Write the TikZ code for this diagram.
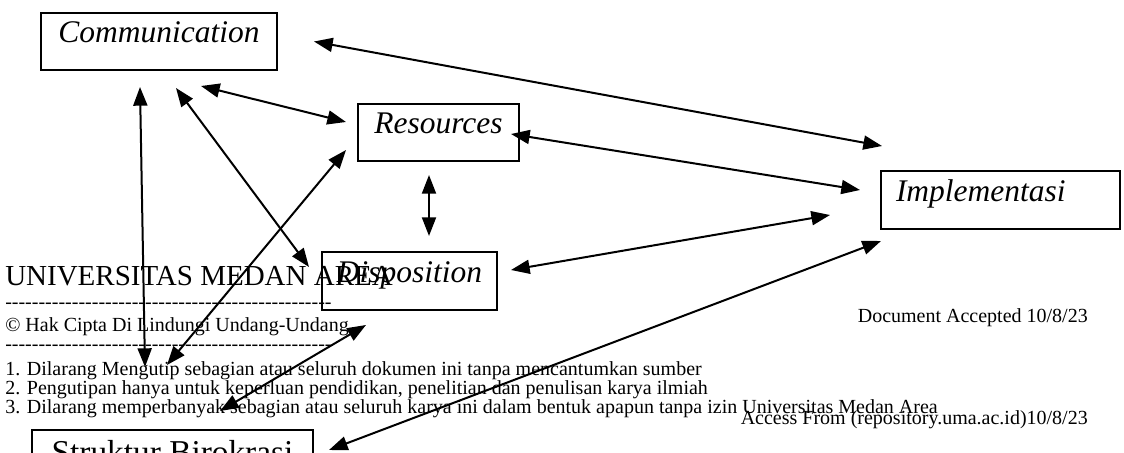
\documentclass[tikz,border=0pt]{standalone}
\usepackage{fontspec}
\setmainfont{Liberation Serif}
\usetikzlibrary{arrows.meta,calc}
\tikzset{
  box/.style={draw,line width=1.5pt,inner sep=0pt,align=center,
    text height=16.5pt,text depth=14.5pt,
    font=\fontsize{23.6}{26}\selectfont\itshape},
  arrow/.style={{Triangle[length=14pt,width=10.5pt]}-{Triangle[length=14pt,width=10.5pt]},
    line width=1.5pt},
  wm/.style={inner sep=0pt,font=\fontsize{15}{18}\selectfont},
}
\begin{document}
\begin{tikzpicture}[x=0.75pt,y=-0.75pt]
  \useasboundingbox (0,0) rectangle (1124,453);
  \clip (0,0) rectangle (1124,453);
  \fill[white] (0,0) rectangle (1124,453);
  % the five variables
  \node[box,minimum width=177pt,minimum height=42.75pt]
    (comm) at (159,41.5) {Communication};
  \node[box,minimum width=120.75pt,minimum height=42.75pt]
    (res) at (438.5,132.5) {Resources};
  \node[box,minimum width=131.25pt,minimum height=43.5pt]
    (disp) at (409.5,281) {Disposition};
  \node[box,anchor=west,align=left,text width=156.75pt,inner xsep=11.25pt,
    minimum height=43.5pt] (impl) at (880,200) {Implementasi};
  \node[box,font=\fontsize{25}{28}\selectfont,text depth=10pt,
    minimum width=210.75pt,minimum height=43.5pt]
    (struk) at (172.5,459) {Struktur Birokrasi};
  % two-way links, ends kept off the boxes
  \draw[arrow] ($(comm.east)+(36,0)$) -- ($(impl.north west)+(2,-24)$);
  \draw[arrow] ($(comm.south)+(42,15)$) -- ($(res.west)+(-11,-10.5)$);
  \draw[arrow] ($(comm.south)+(-19,16)$) -- ($(struk.north)+(-27.5,-62)$);
  \draw[arrow] ($(comm.south)+(17,17)$) -- ($(disp.west)+(-12,-14)$);
  \draw[arrow] ($(res.west)+(-11,17.5)$) -- ($(struk.north)+(-5.5,-64)$);
  \draw[arrow] ($(res.south)+(-9.5,13)$) -- ($(disp.north)+(19.5,-15)$);
  \draw[arrow] ($(res.east)+(-9,1.5)$) -- ($(impl.west)+(-20,-10)$);
  \draw[arrow] ($(disp.east)+(13,-11)$) -- ($(impl.west)+(-50,15)$);
  \draw[arrow] ($(disp.south)+(-43.5,14)$) -- ($(struk.north)+(47.5,-18)$);
  \draw[arrow] ($(struk.east)+(15,-9)$) -- ($(impl.south west)+(1,11)$);
  % repository stamp over the figure
  \node[wm,font=\fontsize{21.75}{24}\selectfont,anchor=base west]
    (uni) at (5,285) {UNIVERSITAS MEDAN AREA};
  \node[wm,anchor=base west] (dash1) at (5,308)
    {\foreach \k in {1,...,49}{-\kern0pt}};
  \node[wm,anchor=base west] (hak) at (5,331)
    {© Hak Cipta Di Lindungi Undang-Undang};
  \node[wm,anchor=base west] (dash2) at (5,350)
    {\foreach \k in {1,...,49}{-\kern0pt}};
  \node[wm,anchor=base west] (rule1) at (5,375)
    {1. Dilarang Mengutip sebagian atau seluruh dokumen ini tanpa mencantumkan sumber};
  \node[wm,anchor=base west] (rule2) at (5,394)
    {2. Pengutipan hanya untuk keperluan pendidikan, penelitian dan penulisan karya ilmiah};
  \node[wm,anchor=base west] (rule3) at (5,413)
    {3. Dilarang memperbanyak sebagian atau seluruh karya ini dalam bentuk apapun tanpa izin Universitas Medan Area};
  \node[wm,anchor=base east] (acc) at (1088,322) {Document Accepted 10/8/23};
  \node[wm,anchor=base east] (from) at (1088,424)
    {Access From (repository.uma.ac.id)10/8/23};
\end{tikzpicture}
\end{document}
